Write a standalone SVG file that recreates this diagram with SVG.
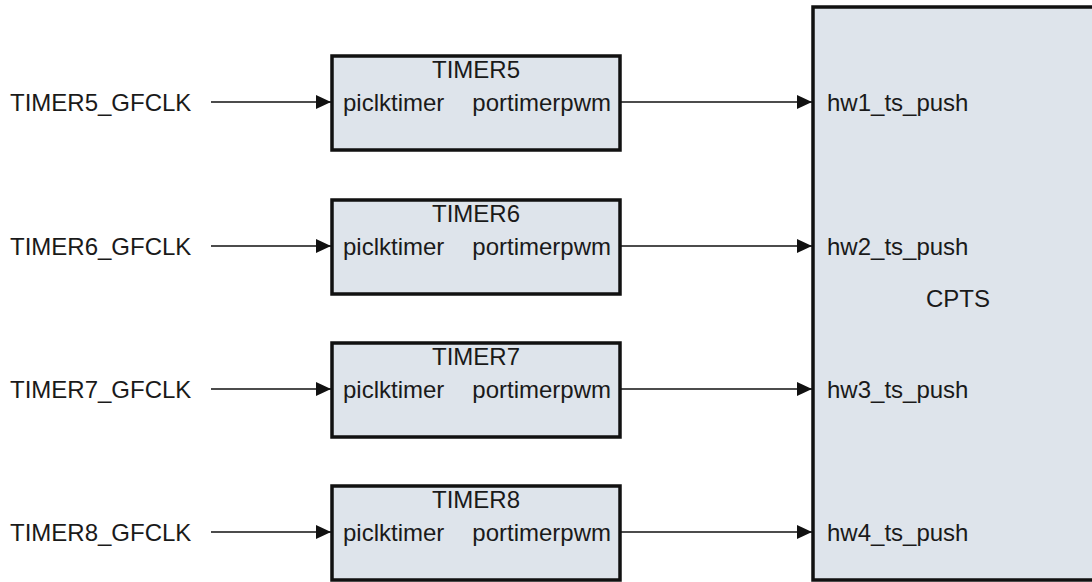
<svg xmlns="http://www.w3.org/2000/svg" width="1092" height="582" viewBox="0 0 1092 582">
<style>
.box{fill:#dee4eb;stroke:#111;stroke-width:3.5}
.t{font-family:"Liberation Sans",Arial,sans-serif;font-size:24px;fill:#1a1a1a}
.m{text-anchor:middle}
.e{text-anchor:end}
.w{stroke:#111;stroke-width:1.5;fill:none}
</style>
<defs>
<marker id="ah" viewBox="0 0 15 14" refX="15" refY="7" markerWidth="15" markerHeight="14" markerUnits="userSpaceOnUse" orient="auto">
<path d="M0,0 L15,7 L0,14 Z" fill="#111"/>
</marker>
</defs>
<rect x="0" y="0" width="1092" height="582" fill="#fff"/>
<g id="cpts">
<rect class="box" x="813" y="7" width="300" height="573"/>
<text class="t m" x="958" y="307">CPTS</text>
<text class="t" x="827" y="111">hw1_ts_push</text>
<text class="t" x="827" y="255">hw2_ts_push</text>
<text class="t" x="827" y="398">hw3_ts_push</text>
<text class="t" x="827" y="541">hw4_ts_push</text>
</g>
<g id="timer5">
<rect class="box" x="332" y="56" width="288" height="94"/>
<text class="t m" x="476" y="78">TIMER5</text>
<text class="t" x="343" y="111">piclktimer</text>
<text class="t e" x="611" y="111">portimerpwm</text>
</g>
<g id="timer6">
<rect class="box" x="332" y="200" width="288" height="94"/>
<text class="t m" x="476" y="222">TIMER6</text>
<text class="t" x="343" y="255">piclktimer</text>
<text class="t e" x="611" y="255">portimerpwm</text>
</g>
<g id="timer7">
<rect class="box" x="332" y="343" width="288" height="94"/>
<text class="t m" x="476" y="365">TIMER7</text>
<text class="t" x="343" y="398">piclktimer</text>
<text class="t e" x="611" y="398">portimerpwm</text>
</g>
<g id="timer8">
<rect class="box" x="332" y="486" width="288" height="94"/>
<text class="t m" x="476" y="508">TIMER8</text>
<text class="t" x="343" y="541">piclktimer</text>
<text class="t e" x="611" y="541">portimerpwm</text>
</g>
<g id="inputs">
<text class="t" x="10" y="111">TIMER5_GFCLK</text>
<text class="t" x="10" y="255">TIMER6_GFCLK</text>
<text class="t" x="10" y="398">TIMER7_GFCLK</text>
<text class="t" x="10" y="541">TIMER8_GFCLK</text>
</g>
<g id="connectors">
<line class="w" x1="211" y1="102" x2="331" y2="102" marker-end="url(#ah)"/>
<line class="w" x1="211" y1="246" x2="331" y2="246" marker-end="url(#ah)"/>
<line class="w" x1="211" y1="389" x2="331" y2="389" marker-end="url(#ah)"/>
<line class="w" x1="211" y1="532" x2="331" y2="532" marker-end="url(#ah)"/>
<line class="w" x1="621" y1="102" x2="812" y2="102" marker-end="url(#ah)"/>
<line class="w" x1="621" y1="246" x2="812" y2="246" marker-end="url(#ah)"/>
<line class="w" x1="621" y1="389" x2="812" y2="389" marker-end="url(#ah)"/>
<line class="w" x1="621" y1="532" x2="812" y2="532" marker-end="url(#ah)"/>
</g>
</svg>
